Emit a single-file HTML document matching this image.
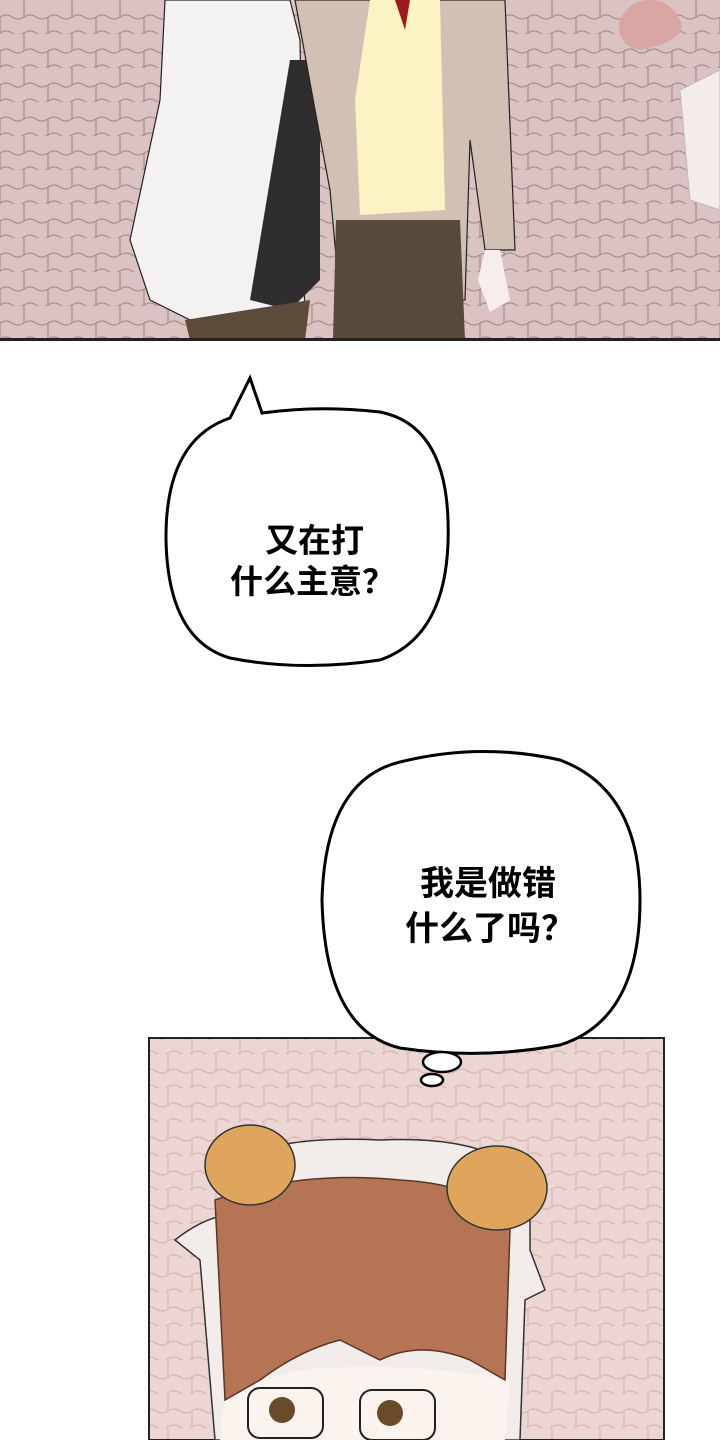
<!DOCTYPE html>
<html><head><meta charset="utf-8"><style>
html,body{margin:0;padding:0;background:#fff;}
svg{display:block}
text{font-family:"Liberation Sans","Noto Sans CJK SC",sans-serif;font-weight:bold;}
</style></head><body>
<svg width="720" height="1440" viewBox="0 0 720 1440" xmlns="http://www.w3.org/2000/svg">
<defs>
<pattern id="pave" width="48" height="34" patternUnits="userSpaceOnUse">
<rect width="48" height="34" fill="#dcc3c3"/>
<path d="M0 17 q6 -4 12 0 t12 0 t12 0 t12 0 M24 0 v17 M0 17 v17 M48 17 v17" stroke="#a89090" stroke-width="1.3" fill="none"/>
<path d="M0 33 q6 -4 12 0 t12 0 t12 0 t12 0" stroke="#a89090" stroke-width="1.3" fill="none"/>
</pattern>
<pattern id="pave2" width="48" height="34" patternUnits="userSpaceOnUse">
<rect width="48" height="34" fill="#ecd6d3"/>
<path d="M0 17 q6 -4 12 0 t12 0 t12 0 t12 0 M24 0 v17 M0 17 v17 M48 17 v17 M0 33 q6 -4 12 0 t12 0 t12 0 t12 0" stroke="#d8b6b2" stroke-width="1.2" fill="none"/>
</pattern>
</defs>
<rect x="0" y="0" width="720" height="340" fill="url(#pave)"/>
<path d="M620 20 q10 -20 30 -20 q20 0 30 20 q10 20 -40 30 q-25 -5 -20 -30z" fill="#d9a6a4"/>
<path d="M680 90 l40 -20 v140 l-30 -10 z" fill="#f4eceb" stroke="#bbb"/>
<path d="M165 0 L290 0 L300 40 L305 330 L200 340 L190 320 L150 300 L130 240 L160 100 Z" fill="#f3f1f1" stroke="#222" stroke-width="1.2"/>
<path d="M290 60 L320 60 L320 280 L290 310 L250 300 Z" fill="#2f2d2e"/>
<path d="M295 0 L505 0 L515 250 L485 250 L470 140 L465 300 L340 300 L330 190 L315 110 Z" fill="#d1c0b4" stroke="#222" stroke-width="1.2"/>
<path d="M370 0 L440 0 L445 210 L360 215 L355 100 Z" fill="#fbf3c4"/>
<path d="M395 0 L410 0 L405 30 Z" fill="#a0181c"/>
<path d="M336 220 L460 220 L465 340 L333 340 Z" fill="#574a3b"/>
<path d="M485 250 L500 250 L510 300 L490 312 L478 280 Z" fill="#f7eeec"/>
<path d="M185 320 L310 300 L305 340 L190 340 Z" fill="#5b4b3b"/>
<rect x="0" y="338" width="720" height="3" fill="#222"/>
<path d="M250 378 L262 413 Q320 405 380 412 Q445 425 448 520 Q452 635 380 660 Q300 672 230 658 Q168 640 166 540 Q165 440 230 418 Z" fill="#fff" stroke="#000" stroke-width="3"/>
<text x="265" y="552" font-size="33">又在打</text>
<text x="230" y="593" font-size="33">什么主意？</text>
<rect x="149" y="1038" width="515" height="402" fill="url(#pave2)" stroke="#222" stroke-width="2"/>
<path d="M230 1165 Q270 1135 380 1140 Q490 1135 530 1180 L530 1250 L545 1290 L525 1300 L520 1440 L215 1440 L200 1260 L175 1240 Q200 1220 225 1215 Z" fill="#f2ecea" stroke="#333" stroke-width="1.5"/>
<path d="M220 1440 L225 1390 L300 1370 Q400 1360 510 1380 L505 1440 Z" fill="#fbf3ee"/>
<path d="M215 1200 Q300 1170 400 1180 Q490 1185 510 1230 L505 1380 L470 1360 Q420 1340 380 1360 L340 1340 Q300 1350 260 1380 L225 1400 Z" fill="#b57555" stroke="#5a3626" stroke-width="1.5"/>
<ellipse cx="250" cy="1165" rx="45" ry="40" fill="#e0a55d" stroke="#333" stroke-width="1.5"/>
<ellipse cx="497" cy="1188" rx="50" ry="42" fill="#e0a55d" stroke="#333" stroke-width="1.5"/>
<circle cx="282" cy="1410" r="13" fill="#6b4a2a"/><circle cx="390" cy="1413" r="13" fill="#6b4a2a"/>
<rect x="248" y="1388" width="75" height="50" rx="12" fill="none" stroke="#222" stroke-width="2"/>
<rect x="360" y="1390" width="75" height="50" rx="12" fill="none" stroke="#222" stroke-width="2"/>
<path d="M400 762 Q480 742 560 760 Q640 790 640 900 Q640 1020 560 1045 Q480 1060 400 1048 Q325 1030 322 900 Q325 780 400 762 Z" fill="#fff" stroke="#000" stroke-width="3"/>
<text x="420" y="895" font-size="34">我是做错</text>
<text x="405" y="940" font-size="34">什么了吗？</text>
<ellipse cx="442" cy="1062" rx="19" ry="10" fill="#fff" stroke="#000" stroke-width="2.5"/>
<ellipse cx="432" cy="1080" rx="11" ry="6" fill="#fff" stroke="#000" stroke-width="2.5"/>
</svg>
</body></html>
